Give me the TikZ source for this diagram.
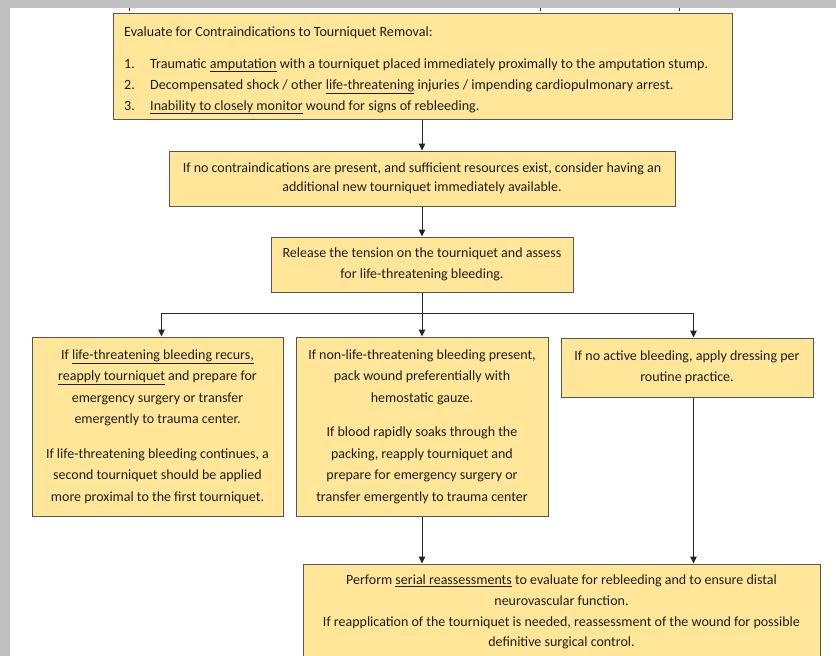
\documentclass[tikz,border=0pt]{standalone}
\usepackage{fontspec}
\setmainfont{Carlito}
\usetikzlibrary{arrows.meta}
\definecolor{boxfill}{HTML}{FFE699}
\definecolor{boxline}{HTML}{555555}
\definecolor{pagegrey}{HTML}{BFBFBF}
\definecolor{txt}{HTML}{1E1E1E}
\tikzset{
  box/.style={draw=boxline, fill=boxfill, line width=1pt, inner sep=0pt, align=center, text=txt, font=\fontsize{14}{21.5}\selectfont},
  ltxt/.style={anchor=base west, inner sep=0pt, text=txt, font=\fontsize{14.1}{16}\selectfont},
  arr/.style={draw=black!85, line width=1pt, -{Triangle[length=7pt,width=6.5pt]}},
  tick/.style={draw=black!80, line width=0.8pt}
}
\begin{document}
\begin{tikzpicture}[x=1pt,y=-1pt]
\useasboundingbox (0,0) rectangle (836,656);
\clip (0,0) rectangle (836,656);
\fill[pagegrey] (0,0) rectangle (836,656);
\fill[white] (10,8) rectangle (836,656);
\draw[tick] (129,8) -- (129,11);
\draw[tick] (540,8) -- (540,11);
\draw[tick] (679,8) -- (679,11);

% box 1
\node[box, minimum width=619pt, minimum height=106pt] (b1) at (422.5,66) {};
\node[ltxt] (t0) at (124,36) {Evaluate for Contraindications to Tourniquet Removal:};
\node[ltxt] (n1) at (124,68) {1.};
\node[ltxt] (i1) at (150,68) {Traumatic \underline{amputation} with a tourniquet placed immediately proximally to the amputation stump.};
\node[ltxt] (n2) at (124,89) {2.};
\node[ltxt] (i2) at (150,89) {Decompensated shock / other \underline{life-threatening} injuries / impending cardiopulmonary arrest.};
\node[ltxt] (n3) at (124,110) {3.};
\node[ltxt] (i3) at (150,110) {\underline{Inability to closely monitor} wound for signs of rebleeding.};

% box 2, 3
\node[box, minimum width=506pt, minimum height=55pt, font=\fontsize{14}{19}\selectfont] (b2) at (422,178.5)
  {If no contraindications are present, and sufficient resources exist, consider having an\\additional new tourniquet immediately available.};
\node[box, minimum width=302pt, minimum height=55pt] (b3) at (422,264.5)
  {Release the tension on the tourniquet and assess\\for life-threatening bleeding.};

% boxes 4, 5, 6
\node[box, minimum width=251pt, minimum height=179pt] (b4) at (157.5,426.5)
  {If \underline{life-threatening bleeding recurs,}\\\underline{reapply tourniquet} and prepare for\\emergency surgery or transfer\\emergently to trauma center.\\[13pt]
   If life-threatening bleeding continues, a\\second tourniquet should be applied\\more proximal to the first tourniquet.};
\node[box, minimum width=252pt, minimum height=179pt] (b5) at (422,426.5)
  {If non-life-threatening bleeding present,\\pack wound preferentially with\\hemostatic gauze.\\[13pt]
   If blood rapidly soaks through the\\packing, reapply tourniquet and\\prepare for emergency surgery or\\transfer emergently to trauma center};
\node[box, minimum width=252pt, minimum height=59pt] (b6) at (687,367.5)
  {If no active bleeding, apply dressing per\\routine practice.};

% box 7
\node[box, minimum width=517pt, minimum height=96pt, font=\fontsize{14}{20.7}\selectfont] (b7) at (561.5,612)
  {Perform \underline{serial reassessments} to evaluate for rebleeding and to ensure distal\\neurovascular function.\\If reapplication of the tourniquet is needed, reassessment of the wound for possible\\definitive surgical control.};

% connectors
\coordinate (split) at (422,313);
\coordinate (in4) at ([xshift=130pt]b4.north west);
\coordinate (in6) at ([xshift=133pt]b6.north west);
\coordinate (out6) at ([xshift=133pt]b6.south west);
\draw[arr] (b2.north |- b1.south) -- (b2.north);
\draw[arr] (b2.south) -- (b3.north);
\draw[draw=black!85, line width=1pt] (b3.south) -- (split);
\draw[arr] (split) -| (in4);
\draw[arr] (split) -- (b5.north);
\draw[arr] (split) -| (in6);
\draw[arr] (b5.south) -- (b5.south |- b7.north);
\draw[arr] (out6) -- (out6 |- b7.north);
\end{tikzpicture}
\end{document}
